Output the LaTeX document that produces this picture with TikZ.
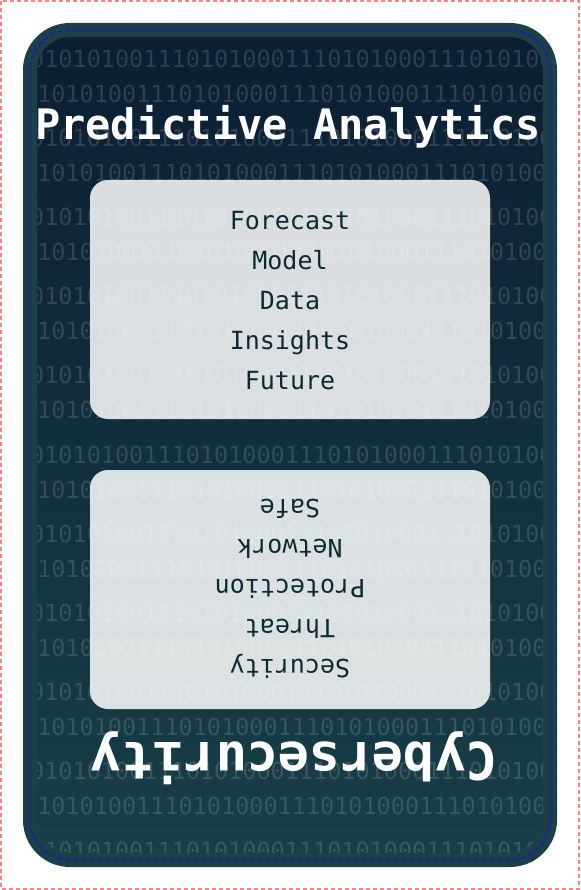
\documentclass[tikz,border=0pt]{standalone}
\usepackage{fontspec}
\setmonofont{DejaVu Sans Mono}
\definecolor{cardedge}{HTML}{1B4047}
\definecolor{bgtop}{HTML}{0B1E33}
\definecolor{bgbot}{HTML}{183F48}
\definecolor{boxtext}{HTML}{0C2A34}
\definecolor{framepink}{HTML}{F88484}
\definecolor{guideblue}{HTML}{1418D0}
\begin{document}
\begin{tikzpicture}[x=1pt,y=-1pt,
  binrow/.style={anchor=west, inner sep=0pt, text=white, text opacity=0.14,
    font=\fontsize{23.5pt}{23.5pt}\selectfont\ttfamily},
  panel/.style={fill=white, fill opacity=0.85, rounded corners=18pt,
    minimum width=400pt, minimum height=239pt, inner sep=0pt},
  word/.style={anchor=base, inner sep=0pt, text=boxtext,
    font=\fontsize{25pt}{25pt}\selectfont\ttfamily},
  titletext/.style={anchor=base, inner sep=0pt, text=white}]
\useasboundingbox (0,0) rectangle (580,890);
\draw[framepink, line width=1.2pt, dash pattern=on 4pt off 3pt] (1,1) rectangle (579,889);
% card background
\shade[top color=bgtop, bottom color=bgbot, rounded corners=40pt] (30,30) rectangle (550,860);
% panels
\node[panel] (topbox) at (290,299.5) {};
\node[panel] (botbox) at (290,589.5) {};
% binary texture
\begin{scope}
\clip[rounded corners=33pt] (37,37) rectangle (543,853);
\foreach \k in {0,...,10}
  \node[binrow] (ra\k) at (30,58.5+79.2*\k) {01010100111010100011101010001110101001};
\foreach \k in {0,...,9}
  \node[binrow] (rb\k) at (37,93.5+79.2*\k) {1010100111010100011101010001110101001};
\end{scope}
% card edge and guide
\draw[cardedge, line width=14pt, rounded corners=40pt] (30,30) rectangle (550,860);
\draw[guideblue, line width=1.4pt, dash pattern=on 5pt off 3pt, rounded corners=40pt] (30,30) rectangle (550,860);
% titles
\node[titletext, font=\fontsize{42pt}{42pt}\selectfont\ttfamily\bfseries] (ttop) at (288,140) {Predictive Analytics};
\node[titletext, rotate=180, font=\fontsize{52pt}{52pt}\selectfont\ttfamily\bfseries] (tbot) at (294,742) {Cybersecurity};
% top panel words
\node[word] (w1) at (290,229.5) {Forecast};
\node[word] (w2) at (290,269.5) {Model};
\node[word] (w3) at (290,309.5) {Data};
\node[word] (w4) at (290,349.5) {Insights};
\node[word] (w5) at (290,389.5) {Future};
% bottom panel words (upside down)
\node[word, rotate=180] (v1) at (290,659.5) {Security};
\node[word, rotate=180] (v2) at (290,619.5) {Threat};
\node[word, rotate=180] (v3) at (290,579.5) {Protection};
\node[word, rotate=180] (v4) at (290,539.5) {Network};
\node[word, rotate=180] (v5) at (290,499.5) {Safe};
\end{tikzpicture}
\end{document}
